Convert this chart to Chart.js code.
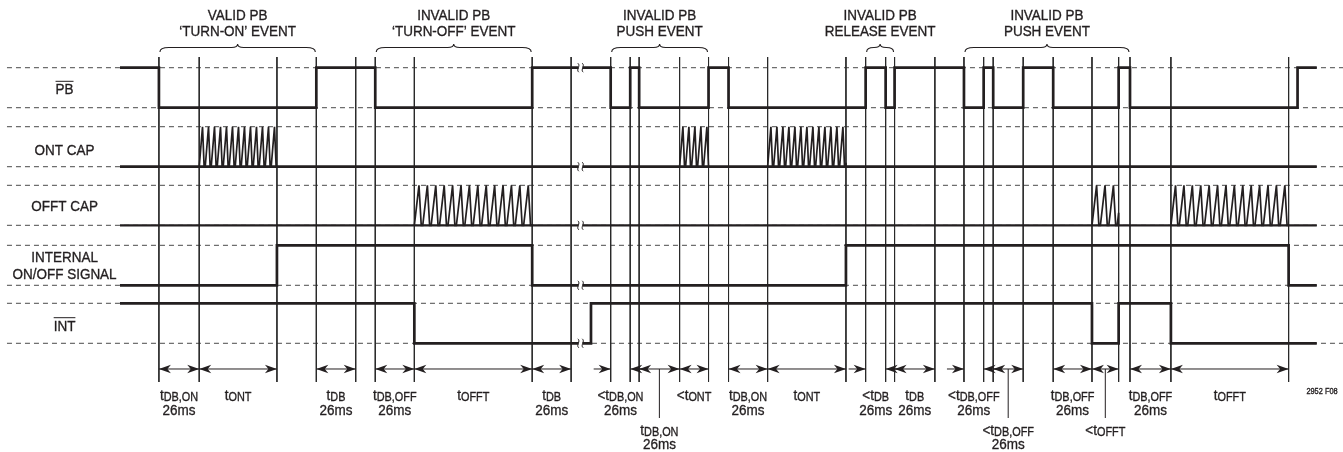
<!DOCTYPE html>
<html><head><meta charset="utf-8">
<script src="https://cdn.jsdelivr.net/npm/chart.js@4.4.1/dist/chart.umd.min.js"></script>
<style>html,body{margin:0;padding:0;background:#fff;}#wrap{width:1343px;height:452px;position:relative;}</style>
</head><body><div id="wrap"><canvas id="c"></canvas></div>
<script>
// ================= DATA (time units) =================
const timeStart = 0;
const timeEnd = 790;
const signalNames = ['PB', 'ONT CAP', 'OFFT CAP', 'INTERNAL|ON/OFF SIGNAL', 'INT'];
const signalOverline = [true, false, false, false, true];
const signalStartLevels = [1, 0, 0, 0, 1];
const pbEdges = [25.7, 129.6, 168.5, 272.1, 323.9, 336.8, 342.7, 388.5, 401.7, 492.2, 505.4, 511.3, 557.1, 570.1, 576.4, 596.2, 616.0, 659.2, 666.7, 777.3];
const ontCapEdges = [];
const offtCapEdges = [];
const onOffEdges = [103.6, 272.1, 479.2, 771.4];
const intEdges = [194.3, 310.9, 641.6, 659.2, 693.7];
const ontCapRamps = [[52.3, 103.6], [369.4, 388.5], [427.5, 479.2]];
const offtCapRamps = [[194.3, 272.1], [641.6, 659.2], [693.7, 771.4]];
const markerTimes = [25.7, 52.3, 103.6, 129.6, 155.6, 168.5, 194.3, 272.1, 297.8, 323.9, 336.8, 342.7, 369.4, 388.5, 401.7, 427.5, 479.2, 492.2, 505.4, 511.3, 537.9, 557.1, 570.1, 576.4, 596.2, 616.0, 641.6, 659.2, 666.7, 693.7, 771.4];
const breakTime = 304;
const breakLevels = [1, 0, 0, 0, 0];
const eventFrom = [25.7, 168.5, 323.9, 492.2, 557.1];
const eventTo = [129.6, 272.1, 388.5, 511.3, 666.7];
const eventLine1 = ['VALID PB', 'INVALID PB', 'INVALID PB', 'INVALID PB', 'INVALID PB'];
const eventLine2 = ['\u2018TURN-ON\u2019 EVENT', '\u2018TURN-OFF\u2019 EVENT', 'PUSH EVENT', 'RELEASE EVENT', 'PUSH EVENT'];
const spanFrom = [25.7, 52.3, 129.6, 168.5, 194.3, 272.1, 323.9, 342.7, 369.4, 401.7, 427.5, 492.2, 511.3, 557.1, 576.4, 616.0, 641.6, 666.7, 693.7];
const spanTo   = [52.3, 103.6, 155.6, 194.3, 272.1, 297.8, 336.8, 369.4, 388.5, 427.5, 479.2, 505.4, 537.9, 570.1, 596.2, 641.6, 659.2, 693.7, 771.4];
const spanKind = ['both','both','both','both','both','both','out','both','both','both','both','out','both','out','both','both','both','both','both'];
const spanPrefix = ['t','t','t','t','t','t','<t','t','<t','t','t','<t','t','<t','<t','t','<t','t','t'];
const spanSub = ['DB,ON','ONT','DB','DB,OFF','OFFT','DB','DB,ON','DB,ON','ONT','DB,ON','ONT','DB','DB','DB,OFF','DB,OFF','DB,OFF','OFFT','DB,OFF','OFFT'];
const spanLine2 = ['26ms','','26ms','26ms','','26ms','26ms','26ms','','26ms','','26ms','26ms','26ms','26ms','26ms','','26ms',''];
const spanRow = [1,1,1,1,1,1,1,2,1,1,1,1,1,1,2,1,2,1,1];
const figureId = '2952 F08';

// ================= LAYOUT / STYLE =================
const X_MIN = -79.2, X_MAX = 807.3, Y_MIN = -2.718, Y_MAX = 8.583;
const laneLow = [5.89, 4.415, 2.95, 1.45, 0];
const AMP = 1;
const MARK_TOP = 7.1575, MARK_BOTTOM = -0.9675, ARROW_Y = -0.6425;
const DASH_START = -74.6, DASH_END = 807.3;
const LABEL_X = -36.6;
const ONT_PERIOD = 3.96, OFFT_PERIOD = 5.55;
const INK = '#231f20';
const FONT = '"Liberation Sans", Arial, Helvetica, sans-serif';
const SX = 0.87;
const MAIN = 15.5, SUB = 12.5;
const labelBaselines = [[94.3], [155], [211], [262, 279], [330.7]];

function lvl(lane, v) { return laneLow[lane] + v * AMP; }

function buildSignal(lane, start, edges) {
  const pts = [];
  let v = start;
  pts.push({x: timeStart, y: lvl(lane, v)});
  for (const t of edges) {
    pts.push({x: t, y: lvl(lane, v)});
    v = 1 - v;
    pts.push({x: t, y: lvl(lane, v)});
  }
  pts.push({x: timeEnd, y: lvl(lane, v)});
  return pts;
}
const allEdges = [pbEdges, ontCapEdges, offtCapEdges, onOffEdges, intEdges];

const dashPts = [];
for (let i = 0; i < laneLow.length; i++) {
  for (const v of [0, 1]) {
    dashPts.push({x: DASH_START, y: lvl(i, v)}, {x: DASH_END, y: lvl(i, v)}, {x: DASH_END, y: null});
  }
}
const markPts = [];
for (const t of markerTimes) markPts.push({x: t, y: MARK_TOP}, {x: t, y: MARK_BOTTOM}, {x: t, y: null});

const datasets = [];
for (let i = 0; i < 5; i++) {
  datasets.push({data: buildSignal(i, signalStartLevels[i], allEdges[i]), borderColor: INK,
    borderWidth: i === 2 ? 2.2 : 2.7, order: 0, borderCapStyle: 'butt', borderJoinStyle: 'miter'});
}
datasets.push({data: markPts, borderColor: '#2a2a2a', borderWidth: 1, order: 1, spanGaps: false});
datasets.push({data: dashPts, borderColor: '#4a4a4a', borderWidth: 1, borderDash: [5, 4], order: 2, spanGaps: false});

function tw(ctx, s, size) { ctx.font = size + 'px ' + FONT; return ctx.measureText(s).width * SX; }
function txt(ctx, s, x, y, size, align) {
  ctx.save();
  ctx.font = size + 'px ' + FONT;
  const w = ctx.measureText(s).width * SX;
  const x0 = align === 'center' ? x - w / 2 : (align === 'right' ? x - w : x);
  ctx.translate(x0, y); ctx.scale(SX, 1);
  ctx.textAlign = 'left'; ctx.textBaseline = 'alphabetic';
  ctx.fillText(s, 0, 0);
  ctx.lineWidth = 0.35; ctx.strokeText(s, 0, 0);
  ctx.restore();
  return {x0: x0, w: w};
}
function head(ctx, x, y, dir) {
  ctx.beginPath();
  ctx.moveTo(x, y);
  ctx.lineTo(x - dir * 12, y - 4.2);
  ctx.lineTo(x - dir * 8.5, y);
  ctx.lineTo(x - dir * 12, y + 4.2);
  ctx.closePath(); ctx.fill();
}
function zig(ctx, xs, xe, yLow, yHigh, p) {
  const shape = [[0.55, 1], [0.82, 0], [1, 0]];
  ctx.beginPath();
  ctx.moveTo(xs, yLow);
  let px = xs, pv = 0, x0 = xs, done = false;
  while (!done) {
    for (const [f, v] of shape) {
      const nx = x0 + f * p;
      if (nx >= xe) {
        const r = (xe - px) / (nx - px);
        const ev = pv + (v - pv) * r;
        ctx.lineTo(xe, yLow + (yHigh - yLow) * ev);
        ctx.lineTo(xe, yLow);
        done = true; break;
      }
      ctx.lineTo(nx, yLow + (yHigh - yLow) * v);
      px = nx; pv = v;
    }
    x0 += p;
  }
  ctx.stroke();
}

const deco = {
  id: 'deco',
  afterDatasetsDraw(chart) {
    const ctx = chart.ctx, xs = chart.scales.x, ys = chart.scales.y;
    const X = v => xs.getPixelForValue(v), Y = v => ys.getPixelForValue(v);
    ctx.save();
    ctx.strokeStyle = INK; ctx.fillStyle = INK; ctx.lineJoin = 'miter';
    // capacitor ramps
    ctx.lineWidth = 1.7;
    const pxPerUnit = X(1) - X(0);
    for (const r of ontCapRamps) zig(ctx, X(r[0]), X(r[1]), Y(lvl(1, 0)), Y(lvl(1, 1)), ONT_PERIOD * pxPerUnit);
    for (const r of offtCapRamps) zig(ctx, X(r[0]), X(r[1]), Y(lvl(2, 0)), Y(lvl(2, 1)), OFFT_PERIOD * pxPerUnit);
    // break marks
    const bx = X(breakTime);
    for (let i = 0; i < 5; i++) {
      const by = Y(lvl(i, breakLevels[i]));
      ctx.fillStyle = '#fff'; ctx.fillRect(bx - 2, by - 2, 4, 4); ctx.fillStyle = INK;
      ctx.lineWidth = 1;
      for (const dx of [-2.2, 2.2]) {
        ctx.beginPath();
        ctx.moveTo(bx + dx - 0.5, by - 4.5);
        ctx.bezierCurveTo(bx + dx + 2.8, by - 2, bx + dx - 2.8, by + 2, bx + dx + 0.5, by + 4.5);
        ctx.stroke();
      }
    }
    // braces + event labels
    ctx.lineWidth = 1.1;
    for (let i = 0; i < eventFrom.length; i++) {
      const a = X(eventFrom[i]), b = X(eventTo[i]), m = (a + b) / 2;
      const e = Math.min(9, (m - a) / 2), c = Math.min(6, (m - a) / 2);
      ctx.beginPath();
      ctx.moveTo(a + 1, 52);
      ctx.quadraticCurveTo(a + 1, 47.5, a + 1 + e, 47.5);
      ctx.lineTo(m - c, 47.5);
      ctx.quadraticCurveTo(m, 47.5, m, 44);
      ctx.quadraticCurveTo(m, 47.5, m + c, 47.5);
      ctx.lineTo(b - 1 - e, 47.5);
      ctx.quadraticCurveTo(b - 1, 47.5, b - 1, 52);
      ctx.stroke();
      txt(ctx, eventLine1[i], m, 20, MAIN, 'center');
      txt(ctx, eventLine2[i], m, 36, MAIN, 'center');
    }
    // signal names
    const lx = X(LABEL_X);
    for (let i = 0; i < signalNames.length; i++) {
      const lines = signalNames[i].split('|');
      for (let k = 0; k < lines.length; k++) {
        const r = txt(ctx, lines[k], lx, labelBaselines[i][k], MAIN, 'center');
        if (signalOverline[i]) {
          ctx.lineWidth = 1;
          ctx.beginPath(); ctx.moveTo(r.x0, labelBaselines[i][k] - 13); ctx.lineTo(r.x0 + r.w, labelBaselines[i][k] - 13); ctx.stroke();
        }
      }
    }
    // timing spans
    const ay = Y(ARROW_Y);
    ctx.lineWidth = 1;
    for (let i = 0; i < spanFrom.length; i++) {
      const a = X(spanFrom[i]), b = X(spanTo[i]), m = (a + b) / 2;
      if (spanKind[i] === 'both') {
        ctx.beginPath(); ctx.moveTo(a, ay); ctx.lineTo(b, ay); ctx.stroke();
        head(ctx, a, ay, -1); head(ctx, b, ay, 1);
      } else {
        ctx.beginPath(); ctx.moveTo(a - 17, ay); ctx.lineTo(a, ay); ctx.moveTo(b, ay); ctx.lineTo(b + 17, ay); ctx.stroke();
        head(ctx, a, ay, 1); head(ctx, b, ay, -1);
      }
      let b1 = 400, b2 = 415;
      if (spanRow[i] === 2) {
        b1 = 434.5; b2 = 449;
        ctx.beginPath(); ctx.moveTo(m, ay); ctx.lineTo(m, 418); ctx.stroke();
      }
      const pre = spanPrefix[i], sub = spanSub[i];
      const wp = tw(ctx, pre, MAIN), ws = tw(ctx, sub, SUB);
      const x0 = m - (wp + ws) / 2;
      txt(ctx, pre, x0, b1, MAIN, 'left');
      txt(ctx, sub, x0 + wp, b1 + 1, SUB, 'left');
      if (spanLine2[i]) txt(ctx, spanLine2[i], m, b2, MAIN, 'center');
    }
    txt(ctx, figureId, 1322, 394, 8.5, 'center');
    ctx.restore();
  }
};

new Chart(document.getElementById('c'), {
  type: 'line',
  data: {datasets: datasets},
  options: {
    responsive: true, maintainAspectRatio: false, animation: false, events: [],
    layout: {padding: 0},
    plugins: {legend: {display: false}, tooltip: {enabled: false}, title: {display: false}},
    elements: {point: {radius: 0}, line: {tension: 0}},
    scales: {
      x: {type: 'linear', min: X_MIN, max: X_MAX, display: false},
      y: {type: 'linear', min: Y_MIN, max: Y_MAX, display: false}
    }
  },
  plugins: [deco]
});
</script>
</body></html>
